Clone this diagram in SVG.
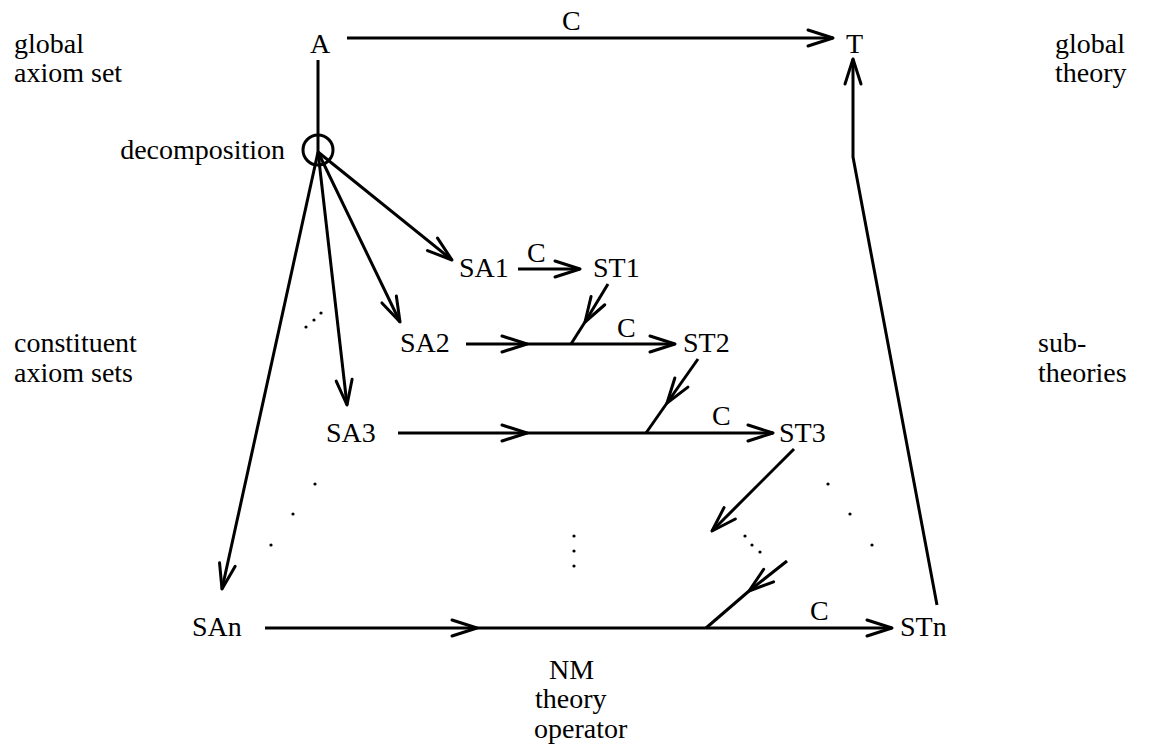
<svg xmlns="http://www.w3.org/2000/svg" width="1149" height="748" viewBox="0 0 1149 748">
<style>
text{font-family:"Liberation Serif","Times New Roman",serif;font-size:28px;fill:#000}
.ln{stroke:#000;stroke-width:3;fill:none;stroke-linejoin:round}
.ar{marker-end:url(#ah)}
.dot{fill:#000}
</style>
<defs>
<marker id="ah" markerUnits="userSpaceOnUse" viewBox="-30 -12 34 24" markerWidth="34" markerHeight="24" refX="0" refY="0" orient="auto" overflow="visible">
<path d="M-25,-8 L0,0 L-25,8" fill="none" stroke="#000" stroke-width="3" stroke-linejoin="round" stroke-linecap="round"/>
</marker>
</defs>
<rect width="1149" height="748" fill="#fff"/>
<g id="labels">
<text x="14" y="53">global</text>
<text x="14" y="82">axiom set</text>
<text x="14" y="352">constituent</text>
<text x="14" y="382">axiom sets</text>
<text x="1055" y="53">global</text>
<text x="1055" y="82">theory</text>
<text x="1038" y="352">sub-</text>
<text x="1038" y="382">theories</text>
<text x="549" y="679">NM</text>
<text x="535" y="708">theory</text>
<text x="534" y="738">operator</text>
</g>
<g id="node-A"><text x="310" y="53">A</text></g>
<g id="node-T"><text x="846" y="53">T</text></g>
<g id="node-decomposition"><circle cx="318" cy="150" r="15" class="ln"/><text x="285" y="159" text-anchor="end">decomposition</text></g>
<g id="node-SA1"><text x="459" y="277">SA1</text></g>
<g id="node-ST1"><text x="593" y="277">ST1</text></g>
<g id="node-SA2"><text x="400" y="352">SA2</text></g>
<g id="node-ST2"><text x="683" y="352">ST2</text></g>
<g id="node-SA3"><text x="326" y="442">SA3</text></g>
<g id="node-ST3"><text x="779" y="442">ST3</text></g>
<g id="node-SAn"><text x="192" y="636">SAn</text></g>
<g id="node-STn"><text x="900" y="636">STn</text></g>
<g id="connectors">
<line class="ln ar" x1="347" y1="38" x2="833" y2="38"/>
<text x="562" y="30">C</text>
<line class="ln" x1="318" y1="60" x2="318" y2="152"/>
<line class="ln ar" x1="318" y1="152" x2="452" y2="260"/>
<line class="ln ar" x1="318" y1="152" x2="400" y2="322"/>
<line class="ln ar" x1="318" y1="152" x2="347" y2="405"/>
<line class="ln ar" x1="318" y1="152" x2="222" y2="589"/>
<line class="ln ar" x1="518" y1="269" x2="580" y2="269"/>
<text x="527" y="262">C</text>
<line class="ln ar" x1="466" y1="344" x2="527" y2="344"/>
<line class="ln ar" x1="527" y1="344" x2="675" y2="344"/>
<line class="ln ar" x1="608" y1="284" x2="585" y2="322"/>
<line class="ln" x1="585" y1="322" x2="571" y2="344"/>
<text x="617" y="337">C</text>
<line class="ln ar" x1="398" y1="433" x2="527" y2="433"/>
<line class="ln ar" x1="527" y1="433" x2="773" y2="433"/>
<line class="ln ar" x1="698" y1="359" x2="667" y2="403"/>
<line class="ln" x1="667" y1="403" x2="646" y2="433"/>
<text x="712" y="425">C</text>
<line class="ln ar" x1="794" y1="449" x2="712" y2="531"/>
<line class="ln ar" x1="265" y1="628" x2="477" y2="628"/>
<line class="ln ar" x1="477" y1="628" x2="892" y2="628"/>
<line class="ln ar" x1="787" y1="561" x2="749" y2="591"/>
<line class="ln" x1="749" y1="591" x2="706" y2="628"/>
<text x="810" y="620">C</text>
<polyline class="ln ar" points="937,605 853,157 853,59"/>
<circle class="dot" cx="306" cy="327" r="1.6"/>
<circle class="dot" cx="314" cy="320" r="1.6"/>
<circle class="dot" cx="321" cy="313" r="1.6"/>
<circle class="dot" cx="315" cy="484" r="1.6"/>
<circle class="dot" cx="293" cy="514" r="1.6"/>
<circle class="dot" cx="271" cy="545" r="1.6"/>
<circle class="dot" cx="574" cy="536" r="1.6"/>
<circle class="dot" cx="574" cy="551" r="1.6"/>
<circle class="dot" cx="574" cy="566" r="1.6"/>
<circle class="dot" cx="745" cy="536" r="1.6"/>
<circle class="dot" cx="752" cy="545" r="1.6"/>
<circle class="dot" cx="760" cy="552" r="1.6"/>
<circle class="dot" cx="828" cy="484" r="1.6"/>
<circle class="dot" cx="850" cy="514" r="1.6"/>
<circle class="dot" cx="872" cy="545" r="1.6"/>
</g>
</svg>
